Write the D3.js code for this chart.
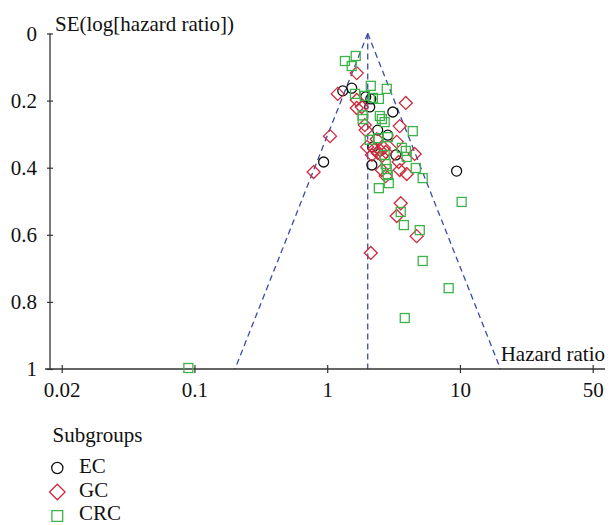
<!DOCTYPE html>
<html>
<head>
<meta charset="utf-8">
<script src="https://cdn.jsdelivr.net/npm/d3@7"></script>
<style>
  html, body { margin: 0; padding: 0; background: #fff; }
  svg { display: block; }
  text { font-family: "Liberation Serif", "Times New Roman", serif; fill: #111; }
</style>
</head>
<body>
<svg id="chart" width="611" height="525"></svg>
<script>
// ---------- data ----------
const xTickValues = [0.01, 0.1, 1, 10, 100];
const xTickLabels = ["0.02", "0.1", "1", "10", "50"];
const yTickValues = [0, 0.2, 0.4, 0.6, 0.8, 1];
const yTickLabels = ["0", "0.2", "0.4", "0.6", "0.8", "1"];

const pooledHR = 2.02;
const funnelSE = [0, 1];
const funnelLower = [2.02, 0.202];
const funnelUpper = [2.02, 20.2];

const subgroups = ["EC", "GC", "CRC"];

// EC: [hazard ratio, SE]
const ecData = [
  [1.31, 0.171], [1.53, 0.163], [1.95, 0.189], [2.13, 0.195], [2.09, 0.219],
  [3.12, 0.234], [2.40, 0.288], [2.86, 0.303], [2.21, 0.338], [3.29, 0.362],
  [0.94, 0.383], [2.17, 0.392], [9.44, 0.410]
];
// GC
const gcData = [
  [1.67, 0.118], [1.20, 0.180], [1.67, 0.198], [1.67, 0.222], [1.82, 0.219],
  [3.91, 0.207], [1.92, 0.273], [1.95, 0.288], [3.52, 0.276], [1.05, 0.306],
  [2.36, 0.315], [3.34, 0.323], [2.00, 0.338], [2.28, 0.344], [2.49, 0.347],
  [2.67, 0.341], [2.40, 0.356], [2.76, 0.353], [2.17, 0.362], [2.58, 0.365],
  [4.56, 0.359], [0.79, 0.413], [3.45, 0.383], [3.52, 0.407], [3.97, 0.419],
  [2.58, 0.407], [2.76, 0.425], [3.58, 0.506], [3.34, 0.544], [4.72, 0.604],
  [2.13, 0.654]
];
// CRC
const crcData = [
  [1.64, 0.067], [1.36, 0.082], [1.53, 0.097], [2.13, 0.156], [2.81, 0.165],
  [1.62, 0.180], [1.92, 0.186], [2.21, 0.192], [2.45, 0.195], [1.85, 0.244],
  [1.85, 0.255], [2.49, 0.246], [2.58, 0.255], [2.71, 0.264], [4.41, 0.291],
  [2.09, 0.317], [2.41, 0.312], [2.86, 0.309], [3.65, 0.341], [3.91, 0.350],
  [3.97, 0.368], [2.71, 0.362], [2.76, 0.389], [2.81, 0.404], [2.86, 0.422],
  [4.65, 0.401], [5.24, 0.431], [2.45, 0.461], [2.91, 0.446], [3.58, 0.532],
  [10.3, 0.502], [3.78, 0.571], [4.98, 0.586], [5.24, 0.678], [8.22, 0.759],
  [3.84, 0.848], [0.09, 0.997]
];

// ---------- layout ----------
const svg = d3.select("#chart");
const axisColor = "#333";
const funnelColor = "#3b4ba8";
const colors = { EC: "#111111", GC: "#cc2a3c", CRC: "#3db34a" };
const fontSize = "21px";

const x = d3.scaleLog().domain([0.01, 100]).range([61.7, 592.7]);
const y = d3.scaleLinear().domain([0, 1]).range([33.5, 369]);

// ---------- funnel ----------
const funnelLine = d3.line().x(d => x(d[0])).y(d => y(d[1]));
const dash = "6,4";
const lowerPts = funnelSE.map((s, i) => [funnelLower[i], s]);
const upperPts = funnelSE.map((s, i) => [funnelUpper[i], s]);
const centerPts = funnelSE.map(s => [pooledHR, s]);
[lowerPts, upperPts, centerPts].forEach(pts => {
  svg.append("path")
    .attr("d", funnelLine(pts))
    .attr("fill", "none")
    .attr("stroke", funnelColor)
    .attr("stroke-width", 1.3)
    .attr("stroke-dasharray", dash);
});

// ---------- axes ----------
const yAxis = svg.append("g")
  .attr("transform", `translate(50,0)`)
  .call(d3.axisLeft(y).tickValues(yTickValues).tickSize(3).tickSizeOuter(0)
        .tickFormat((d, i) => yTickLabels[i]));
yAxis.select(".domain").remove();
yAxis.selectAll(".tick line").attr("x1", -3).attr("x2", 3)
  .attr("stroke", axisColor).attr("stroke-width", 1.2);
yAxis.selectAll(".tick text").attr("x", -13).attr("dy", "0.33em")
  .style("font-size", fontSize).style("font-family", "Liberation Serif").attr("fill", "#111");
yAxis.append("line").attr("x1", 0).attr("x2", 0).attr("y1", y(0)).attr("y2", y(1))
  .attr("stroke", axisColor).attr("stroke-width", 1.3);

const xAxis = svg.append("g")
  .attr("transform", `translate(0,${y(1)})`)
  .call(d3.axisBottom(x).tickValues(xTickValues).tickSize(4).tickSizeOuter(0)
        .tickFormat((d, i) => xTickLabels[i]));
xAxis.select(".domain").remove();
xAxis.selectAll(".tick line").attr("y1", -4).attr("y2", 4)
  .attr("stroke", axisColor).attr("stroke-width", 1.2);
xAxis.selectAll(".tick text").attr("y", 28).attr("dy", null)
  .style("font-size", fontSize).style("font-family", "Liberation Serif").attr("fill", "#111");
xAxis.append("line").attr("x1", 45).attr("x2", 605).attr("y1", 0).attr("y2", 0)
  .attr("stroke", axisColor).attr("stroke-width", 1.3);

// axis titles
svg.append("text").attr("x", 55).attr("y", 31)
  .style("font-size", fontSize).text("SE(log[hazard ratio])");
svg.append("text").attr("x", 605).attr("y", 361).attr("text-anchor", "end")
  .style("font-size", fontSize)
  .attr("stroke", "#fff").attr("stroke-width", 3).attr("paint-order", "stroke")
  .text("Hazard ratio");

// ---------- markers ----------
function drawMarker(g, type, cx, cy, size) {
  if (type === "EC") {
    g.append("circle").attr("cx", cx).attr("cy", cy).attr("r", size)
      .attr("fill", "none").attr("stroke", colors.EC).attr("stroke-width", 1.3);
  } else if (type === "GC") {
    const h = size * 1.3;
    g.append("path")
      .attr("d", `M${cx},${cy - h}L${cx + h},${cy}L${cx},${cy + h}L${cx - h},${cy}Z`)
      .attr("fill", "none").attr("stroke", colors.GC).attr("stroke-width", 1.3);
  } else {
    const s = size * 0.9;
    g.append("rect").attr("x", cx - s).attr("y", cy - s).attr("width", 2 * s).attr("height", 2 * s)
      .attr("fill", "none").attr("stroke", colors.CRC).attr("stroke-width", 1.3);
  }
}

const pts = svg.append("g");
ecData.forEach(d => drawMarker(pts, "EC", x(d[0]), y(d[1]), 5));
gcData.forEach(d => drawMarker(pts, "GC", x(d[0]), y(d[1]), 5));
crcData.forEach(d => drawMarker(pts, "CRC", x(d[0]), y(d[1]), 5));

// ---------- legend ----------
const legend = svg.append("g");
legend.append("text").attr("x", 52.5).attr("y", 441.5).style("font-size", fontSize).text("Subgroups");
subgroups.forEach((s, i) => {
  const cy = 468 + i * 24;
  drawMarker(legend, s, 57.3, cy, s === "EC" ? 5.6 : 6);
  legend.append("text").attr("x", 79).attr("y", cy + (i === 2 ? 4 : 4.5))
    .style("font-size", fontSize).text(s);
});
</script>
</body>
</html>
